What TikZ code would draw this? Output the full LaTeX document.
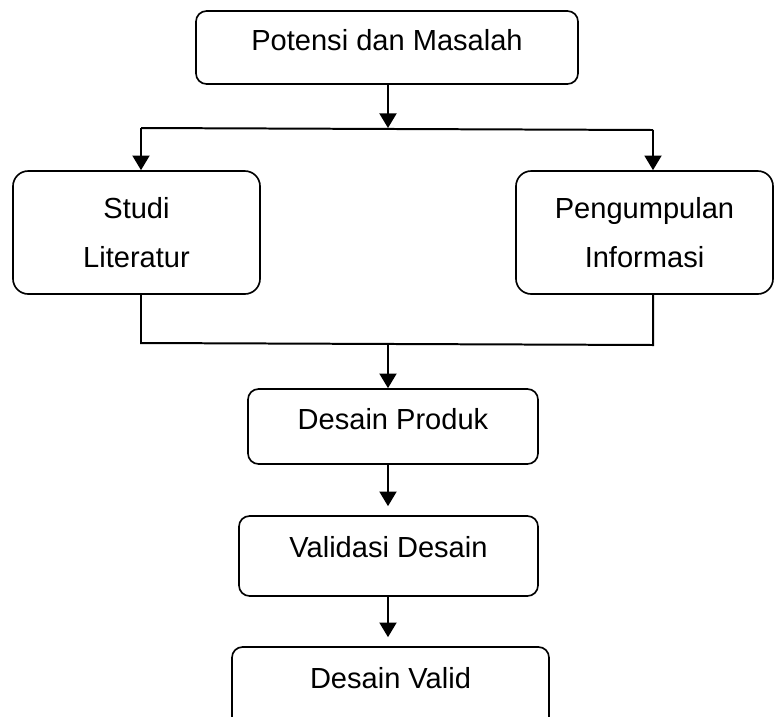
\documentclass[tikz,border=0pt]{standalone}
\usepackage{fontspec}
\setmainfont{Liberation Sans}
\usepackage{tikz}
\usetikzlibrary{positioning,calc,arrows.meta}
\tikzset{
  flowbox/.style={draw=black,line width=1.4pt,rounded corners=9pt,inner sep=0pt,
    align=center,font=\rmfamily\fontsize{24.8}{41.8}\selectfont},
  flowone/.style={flowbox,text height=0.75em,text depth=#1},
  flowline/.style={draw=black,line width=1.7pt},
  flowarrow/.style={flowline,-{Triangle[length=12.5pt,width=14.5pt]}}
}

\begin{document}
\begin{tikzpicture}[x=0.03cm,y=-0.03cm]
  \useasboundingbox (0,0) rectangle (774,716);
  \node[flowone=0.2em,minimum width=11.46cm,minimum height=2.19cm]
        (masalah) at (387,47.5) {Potensi dan Masalah};
  \node[flowbox,rounded corners=13pt,minimum width=7.41cm,minimum height=3.69cm]
        (studi) at (136.5,232.5) {Studi\\Literatur};
  \node[flowbox,rounded corners=13pt,minimum width=7.71cm,minimum height=3.69cm]
        (info) at (644.5,232.5) {Pengumpulan\\Informasi};
  \node[flowone=0.2em,minimum width=8.70cm,minimum height=2.25cm]
        (desain) at (393,426.5) {Desain Produk};
  \node[flowone=0.45em,minimum width=8.97cm,minimum height=2.40cm]
        (validasi) at (388.5,556) {Validasi Desain};
  \node[flowone=0.42em,minimum width=9.51cm,minimum height=2.40cm]
        (valid) at (390.5,687) {Desain Valid};
  \coordinate (split) at (388,128);
  \coordinate (jl) at (141,128);
  \coordinate (jr) at (653,130);
  \coordinate (ml) at (141,343);
  \coordinate (mr) at (653,345);
  \coordinate (merge) at (388,344);
  \draw[flowarrow] (masalah.south -| split) -- (split);
  \draw[flowline] (jl) -- (jr);
  \draw[flowarrow] (jl) -- (jl |- studi.north);
  \draw[flowarrow] (jr) -- (jr |- info.north);
  \draw[flowline] (studi.south -| jl) -- (ml) -- (mr) -- (info.south -| jr);
  \draw[flowarrow] (merge) -- (merge |- desain.north);
  \draw[flowarrow,shorten >=0.27cm] (desain.south -| merge) -- (validasi.north -| merge);
  \draw[flowarrow,shorten >=0.27cm] (validasi.south -| merge) -- (valid.north -| merge);
\end{tikzpicture}
\end{document}
